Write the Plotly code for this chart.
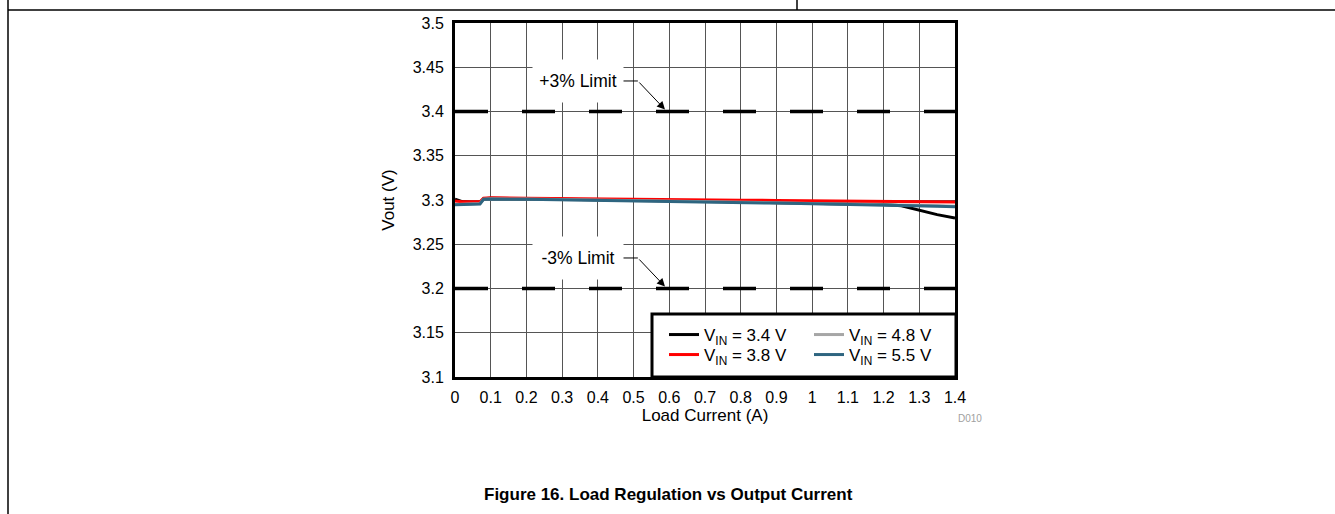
import plotly.graph_objects as go

# ---------------- data ----------------
load_current = [0, 0.02, 0.05, 0.07, 0.08, 0.1, 0.2, 0.3, 0.4, 0.5, 0.6, 0.7,
                0.8, 0.9, 1.0, 1.1, 1.2, 1.25, 1.3, 1.35, 1.4]
vout_vin_3p4 = [3.301, 3.298, 3.297, 3.297, 3.3015, 3.302, 3.3015, 3.301, 3.3005,
                3.300, 3.299, 3.2985, 3.298, 3.297, 3.2965, 3.2955, 3.2948,
                3.2935, 3.2885, 3.2835, 3.2795]
vout_vin_3p8 = [3.299, 3.298, 3.298, 3.298, 3.302, 3.3025, 3.302, 3.3015, 3.301,
                3.3008, 3.3005, 3.300, 3.2998, 3.2995, 3.299, 3.2988, 3.2985,
                3.2983, 3.298, 3.298, 3.2978]
vout_vin_4p8 = [3.295, 3.2955, 3.2955, 3.296, 3.301, 3.3015, 3.301, 3.3005, 3.300,
                3.2995, 3.299, 3.298, 3.2975, 3.297, 3.296, 3.2955, 3.295,
                3.2945, 3.294, 3.2935, 3.293]
vout_vin_5p5 = [3.2945, 3.295, 3.295, 3.2955, 3.3008, 3.301, 3.3008, 3.3003, 3.2998,
                3.2993, 3.2988, 3.298, 3.2973, 3.2965, 3.2958, 3.2952, 3.2946,
                3.294, 3.2935, 3.293, 3.2925]
limit_x = [0, 1.4]
upper_limit = [3.4, 3.4]
lower_limit = [3.2, 3.2]

x_ticks = [0, 0.1, 0.2, 0.3, 0.4, 0.5, 0.6, 0.7, 0.8, 0.9, 1, 1.1, 1.2, 1.3, 1.4]
x_tick_text = ["0", "0.1", "0.2", "0.3", "0.4", "0.5", "0.6", "0.7", "0.8", "0.9",
               "1", "1.1", "1.2", "1.3", "1.4"]
y_ticks = [3.1, 3.15, 3.2, 3.25, 3.3, 3.35, 3.4, 3.45, 3.5]
y_tick_text = ["3.1", "3.15", "3.2", "3.25", "3.3", "3.35", "3.4", "3.45", "3.5"]

FONT = "Arial, Liberation Sans, sans-serif"

fig = go.Figure()

# limit lines
for lim in (upper_limit, lower_limit):
    fig.add_trace(go.Scatter(x=limit_x, y=lim, mode="lines", showlegend=False,
                             hoverinfo="skip",
                             line=dict(color="black", width=3.5, dash="33px,34px")))

series = [
    ("V<sub>IN</sub> = 3.4 V", vout_vin_3p4, "#000000", "legend"),
    ("V<sub>IN</sub> = 3.8 V", vout_vin_3p8, "#ff0000", "legend3"),
    ("V<sub>IN</sub> = 4.8 V", vout_vin_4p8, "#a6a6a6", "legend2"),
    ("V<sub>IN</sub> = 5.5 V", vout_vin_5p5, "#2e6580", "legend4"),
]
for name, ys, col, lg in series:
    fig.add_trace(go.Scatter(x=load_current, y=ys, mode="lines", name=name,
                             legend=lg, line=dict(color=col, width=3)))

# helpers for pixel placement outside data
L, R, T, B = 455, 955, 23, 377
W, H = 1335, 514
def px(x):
    return (x - L) / (R - L)
def py(y):
    return (B - y) / (B - T)

shapes = []
# legend box
shapes.append(dict(type="rect", xref="paper", yref="paper",
                   x0=px(652), x1=px(956), y0=py(314), y1=py(377),
                   line=dict(color="black", width=3), fillcolor="white",
                   layer="above"))
# leader horizontal segments
for yv in (3.4345, 3.2345):
    shapes.append(dict(type="line", xref="x", yref="y", x0=0.47, x1=0.512,
                       y0=yv, y1=yv, line=dict(color="black", width=1),
                       layer="above"))
# page/table frame lines
shapes.append(dict(type="line", xref="paper", yref="paper", x0=px(8), x1=px(1336),
                   y0=py(10), y1=py(10), line=dict(color="black", width=1.5)))
shapes.append(dict(type="line", xref="paper", yref="paper", x0=px(8), x1=px(8),
                   y0=py(-2), y1=py(516), line=dict(color="black", width=1.5)))
shapes.append(dict(type="line", xref="paper", yref="paper", x0=px(797), x1=px(797),
                   y0=py(-2), y1=py(10), line=dict(color="black", width=1.5)))

annotations = []
for txt, yv, tip in (("+3% Limit", 3.4345, 3.4022), ("-3% Limit", 3.2345, 3.2022)):
    annotations.append(dict(x=0.344, y=yv, xref="x", yref="y", text=txt,
                            showarrow=False, bgcolor="white", width=86, height=38,
                            borderpad=2, font=dict(family=FONT, size=17.5, color="black")))
    annotations.append(dict(x=0.588, y=tip, xref="x", yref="y", ax=0.512, ay=yv,
                            axref="x", ayref="y", text="", showarrow=True,
                            arrowhead=2, arrowsize=1.6, arrowwidth=1,
                            arrowcolor="black"))
annotations.append(dict(x=px(970), y=py(419), xref="paper", yref="paper",
                        xanchor="center", yanchor="middle",
                        text="D010", showarrow=False,
                        font=dict(family=FONT, size=10, color="#a0a0a0")))
annotations.append(dict(x=px(668), y=py(494), xref="paper", yref="paper",
                        xanchor="center", yanchor="middle",
                        text="<b>Figure 16. Load Regulation vs Output Current</b>",
                        showarrow=False,
                        font=dict(family=FONT, size=17, color="black")))

def leg(xp, yp):
    return dict(x=px(xp), y=py(yp), xanchor="left", yanchor="middle",
                bgcolor="rgba(0,0,0,0)", borderwidth=0,
                font=dict(family=FONT, size=17), tracegroupgap=0)

fig.update_layout(
    width=W, height=H,
    margin=dict(l=L, r=W - R, t=T, b=H - B, pad=0),
    paper_bgcolor="white", plot_bgcolor="white",
    font=dict(family=FONT, size=16, color="black"),
    shapes=shapes, annotations=annotations,
    legend=leg(664, 335), legend3=leg(664, 355),
    legend2=leg(809, 335), legend4=leg(809, 355),
)
fig.update_xaxes(range=[0, 1.4], tickvals=x_ticks, ticktext=x_tick_text,
                 showgrid=True, gridcolor="#555555", gridwidth=1,
                 showline=True, linecolor="black", linewidth=3, mirror=True,
                 ticks="outside", ticklen=4, tickcolor="rgba(0,0,0,0)",
                 zeroline=False, tickfont=dict(family=FONT, size=16),
                 title=dict(text="Load Current (A)", standoff=0,
                            font=dict(family=FONT, size=17)))
fig.update_yaxes(range=[3.1, 3.5], tickvals=y_ticks, ticktext=y_tick_text,
                 showgrid=True, gridcolor="#555555", gridwidth=1,
                 showline=True, linecolor="black", linewidth=3, mirror=True,
                 ticks="outside", ticklen=5, tickcolor="rgba(0,0,0,0)",
                 zeroline=False, tickfont=dict(family=FONT, size=16),
                 title=dict(text="Vout (V)", standoff=14,
                            font=dict(family=FONT, size=17)))

fig.write_html("out.html")
